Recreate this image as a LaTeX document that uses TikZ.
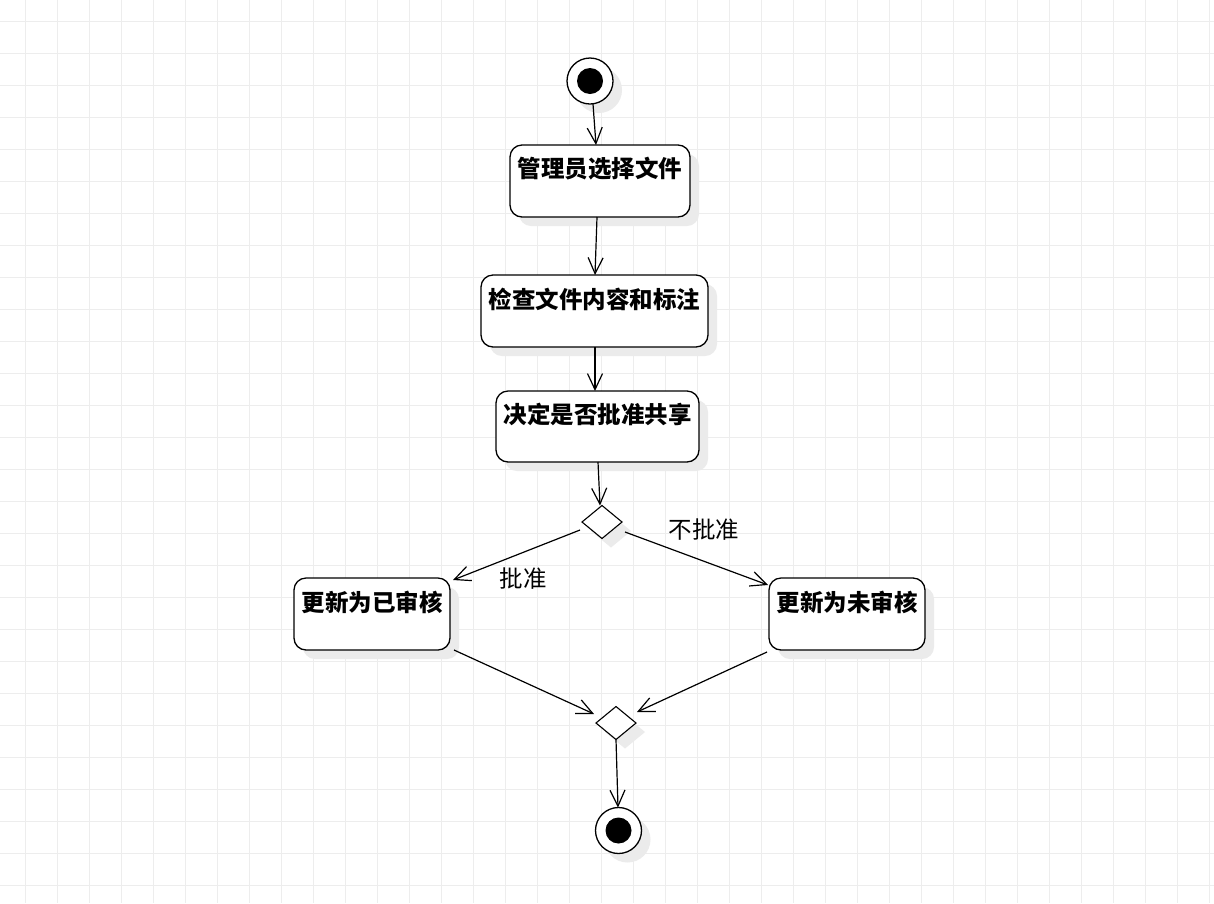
\documentclass[tikz,border=0pt]{standalone}
\usepackage{fontspec}
\newfontfamily\cjk{Noto Sans CJK SC}
\usetikzlibrary{arrows.meta,shapes.geometric,shadows}
\definecolor{gridline}{HTML}{EDEDED}
\definecolor{shadowgray}{HTML}{EBEBEB}
\tikzset{
  shade box/.style={drop shadow={shadow xshift=9pt, shadow yshift=-9pt, opacity=1, fill=shadowgray}},
  activity/.style={draw, line width=1.3pt, rounded corners=12pt, fill=white, inner sep=0pt, outer sep=0pt,
    minimum height=72pt, shade box},
  acttext/.style={font=\cjk\bfseries\fontsize{23.5}{26}\selectfont, anchor=center},
  choice/.style={diamond, draw, line width=1.1pt, fill=white, inner sep=0pt, outer sep=0pt,
    minimum width=40pt, minimum height=33pt, shade box},
  startnode/.style={circle, draw, line width=1.3pt, fill=white, minimum size=46pt, inner sep=0pt, outer sep=0pt, shade box},
  flow/.style={line width=1.2pt, -{Straight Barb[length=16pt, width=15pt, line width=1.2pt]}},
  guard/.style={font=\cjk\fontsize{23.5}{26}\selectfont}
}
\begin{document}
\begin{tikzpicture}[x=1pt, y=-1pt]
  \useasboundingbox (0,0) rectangle (1214,903);
  \fill[white] (0,0) rectangle (1214,903);
  % background grid
  \foreach \gx in {25,57,...,1214} \draw[gridline, line width=1pt] (\gx,0) -- (\gx,903);
  \foreach \gy in {21,53,...,903} \draw[gridline, line width=1pt] (0,\gy) -- (1214,\gy);

  % start node
  \node[startnode] (s) at (590,81) {};
  \fill (s.center) circle (13pt);

  % activities
  \node[activity, minimum width=180pt, label={[acttext, yshift=-24pt]north:管理员选择文件}] (b1) at (600,181) {};
  \node[activity, minimum width=227pt, label={[acttext, yshift=-24pt]north:检查文件内容和标注}] (b2) at (594.5,311) {};
  \node[activity, minimum width=203pt, minimum height=71pt, label={[acttext, yshift=-23pt]north:决定是否批准共享}] (b3) at (597.5,426.5) {};

  \node[choice] (d1) at (602,522) {};

  \node[activity, minimum width=156pt, label={[acttext, yshift=-24pt]north:更新为已审核}] (lb) at (372,614) {};
  \node[activity, minimum width=156pt, label={[acttext, yshift=-24pt]north:更新为未审核}] (rb) at (847,614) {};

  \node[choice] (d2) at (616,723) {};

  % end node
  \node[startnode] (e) at (618.5,830.5) {};
  \fill (e.center) circle (13pt);

  % connectors
  \draw[flow] ([xshift=3pt]s.south) -- ([xshift=-4pt]b1.north);
  \draw[flow] ([xshift=-3pt]b1.south) -- ([xshift=0.5pt]b2.north);
  \draw[flow] ([xshift=0.5pt]b2.south) -- ([xshift=-2.5pt]b3.north);
  \draw[flow] ([xshift=0.5pt]b3.south) -- ([xshift=-2pt]d1.north);
  \draw[flow] ([shift={(-2pt,-8pt)}]d1.west) -- ([shift={(3pt,-2pt)}]lb.north east);
  \draw[flow] ([shift={(3pt,-10pt)}]d1.east) -- ([shift={(-1pt,-7pt)}]rb.north west);
  \draw[flow] ([shift={(4pt,0pt)}]lb.south east) -- ([shift={(-2pt,9pt)}]d2.west);
  \draw[flow] ([shift={(-2pt,-2pt)}]rb.south west) -- ([shift={(1pt,11pt)}]d2.east);
  \draw[flow] (d2.south) -- ([xshift=-0.5pt]e.north);

  % guard labels
  \node[guard] (g1) at (704,530) {不批准};
  \node[guard] (g2) at (523,579) {批准};
\end{tikzpicture}
\end{document}
